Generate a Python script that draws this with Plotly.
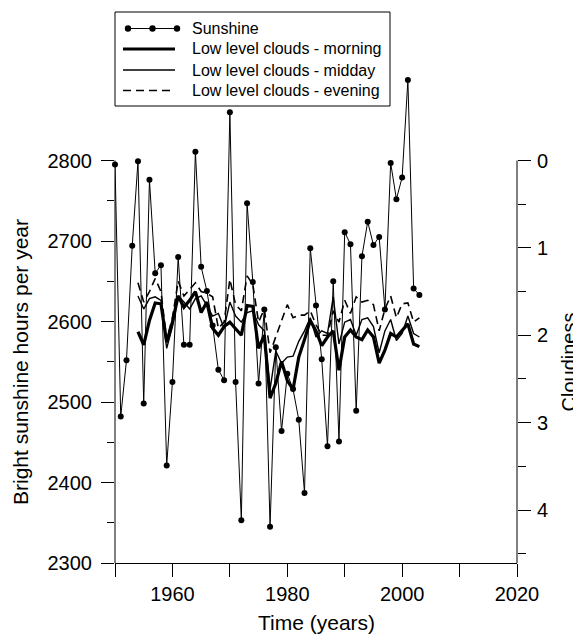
import plotly.graph_objects as go

# ---------------- data ----------------
years_sun = [1950, 1951, 1952, 1953, 1954, 1955, 1956, 1957, 1958, 1959,
             1960, 1961, 1962, 1963, 1964, 1965, 1966, 1967, 1968, 1969,
             1970, 1971, 1972, 1973, 1974, 1975, 1976, 1977, 1978, 1979,
             1980, 1981, 1982, 1983, 1984, 1985, 1986, 1987, 1988, 1989,
             1990, 1991, 1992, 1993, 1994, 1995, 1996, 1997, 1998, 1999,
             2000, 2001, 2002, 2003]
sunshine = [2795, 2482, 2552, 2694, 2799, 2498, 2776, 2660, 2670, 2421,
            2525, 2680, 2571, 2571, 2811, 2668, 2638, 2595, 2540, 2527,
            2860, 2525, 2353, 2747, 2649, 2523, 2615, 2345, 2568, 2464,
            2535, 2516, 2478, 2387, 2691, 2620, 2553, 2445, 2650, 2451,
            2711, 2696, 2489, 2681, 2724, 2695, 2705, 2615, 2797, 2752,
            2779, 2900, 2641, 2633]

years_cloud = [1954, 1955, 1956, 1957, 1958, 1959,
               1960, 1961, 1962, 1963, 1964, 1965, 1966, 1967, 1968, 1969,
               1970, 1971, 1972, 1973, 1974, 1975, 1976, 1977, 1978, 1979,
               1980, 1981, 1982, 1983, 1984, 1985, 1986, 1987, 1988, 1989,
               1990, 1991, 1992, 1993, 1994, 1995, 1996, 1997, 1998, 1999,
               2000, 2001, 2002, 2003]
cloud_morning = [1.96, 2.11, 1.83, 1.63, 1.64, 2.08,
                 1.85, 1.55, 1.68, 1.60, 1.50, 1.74, 1.62, 1.92, 2.00, 1.90,
                 1.85, 1.92, 2.00, 1.66, 1.67, 2.15, 2.00, 2.72, 2.55, 2.30,
                 2.52, 2.62, 2.25, 2.05, 1.83, 1.95, 2.12, 2.02, 1.95, 2.40,
                 2.02, 1.94, 2.02, 2.05, 1.94, 2.02, 2.32, 2.17, 1.98, 2.02,
                 1.94, 1.87, 2.10, 2.13]
cloud_midday = [1.55, 1.70, 1.58, 1.56, 1.60, 2.15,
                1.90, 1.55, 1.62, 1.70, 1.58, 1.55, 1.66, 1.78, 1.75, 1.92,
                1.62, 1.78, 1.85, 1.74, 1.72, 1.88, 1.95, 2.62, 2.18, 2.32,
                2.25, 2.24, 2.07, 1.95, 1.80, 2.02, 1.95, 1.98, 1.56, 2.10,
                1.85, 1.82, 2.00, 1.82, 1.80, 1.90, 2.20, 1.95, 1.82, 2.06,
                1.98, 1.78, 1.98, 2.02]
cloud_evening = [1.40, 1.62, 1.50, 1.35, 1.50, 2.05,
                 1.80, 1.38, 1.55, 1.48, 1.40, 1.50, 1.52, 1.56, 1.92, 1.85,
                 1.36, 1.65, 1.72, 1.32, 1.42, 1.85, 1.70, 2.20, 2.02, 1.85,
                 1.65, 1.80, 1.77, 1.77, 1.72, 1.88, 2.00, 2.00, 1.72, 1.85,
                 1.60, 1.75, 1.56, 1.62, 1.60, 1.65, 1.95, 1.70, 1.55, 1.80,
                 1.64, 1.63, 1.85, 1.80]

x_ticks = [1960, 1980, 2000, 2020]
x_minor = [1950, 1970, 1990, 2010]
y_ticks = [2300, 2400, 2500, 2600, 2700, 2800]
y_minor = [2350, 2450, 2550, 2650, 2750]
y2_ticks = [0, 1, 2, 3, 4]
y2_minor = [0.5, 1.5, 2.5, 3.5, 4.5]

legend_labels = ["Sunshine", "Low level clouds - morning",
                 "Low level clouds - midday", "Low level clouds - evening"]

# ---------------- figure ----------------
FONT = "Liberation Sans, Arial, Helvetica, sans-serif"
OFF = 8                      # page body margin offset
W, H = 581 - OFF, 635 - OFF
ML, MR, MT, MB = 115 - OFF, 64, 10 - OFF, 72
PW, PH = W - ML - MR, H - MT - MB
BOT = 563                    # page y of the x axis
Y2_BOTTOM = (BOT - 160.5) / 87.375
Y2_TOP = -(160.5 - (MT + OFF)) / 87.375

fig = go.Figure()
fig.add_trace(go.Scatter(x=years_cloud, y=cloud_evening, yaxis="y2", mode="lines",
                         line=dict(color="black", width=1.6, dash="8px,5px"),
                         name=legend_labels[3]))
fig.add_trace(go.Scatter(x=years_cloud, y=cloud_midday, yaxis="y2", mode="lines",
                         line=dict(color="black", width=1.4), name=legend_labels[2]))
fig.add_trace(go.Scatter(x=years_cloud, y=cloud_morning, yaxis="y2", mode="lines",
                         line=dict(color="black", width=3.2), name=legend_labels[1]))
fig.add_trace(go.Scatter(x=years_sun, y=sunshine, yaxis="y", mode="lines+markers",
                         line=dict(color="black", width=1),
                         marker=dict(color="black", size=6), cliponaxis=False,
                         name=legend_labels[0]))

tickfont = dict(family=FONT, size=20, color="black")

fig.update_layout(
    width=W, height=H,
    margin=dict(l=ML, r=MR, t=MT, b=MB),
    paper_bgcolor="white", plot_bgcolor="white",
    showlegend=False,
    font=dict(family=FONT, color="black"),
    xaxis=dict(range=[1950, 2020], tickmode="array", tickvals=x_ticks,
               ticks="outside", ticklen=13, tickwidth=1, tickcolor="black",
               minor=dict(tickmode="array", tickvals=x_minor, ticks="outside",
                          ticklen=13, tickwidth=1, tickcolor="black"),
               showline=True, linecolor="black", linewidth=1,
               showgrid=False, zeroline=False, tickfont=tickfont),
    yaxis=dict(range=[2300, 2300 + PH / 0.805], tickmode="array", tickvals=y_ticks,
               ticks="outside", ticklen=13, tickwidth=1, tickcolor="black",
               minor=dict(tickmode="array", tickvals=y_minor, ticks="outside",
                          ticklen=7, tickwidth=1, tickcolor="black"),
               showline=False, showgrid=False, zeroline=False, tickfont=tickfont,
               ticklabelstandoff=5),
    yaxis2=dict(overlaying="y", side="right",
                range=[Y2_BOTTOM, Y2_TOP],
                tickmode="array", tickvals=y2_ticks,
                ticks="outside", ticklen=13, tickwidth=1, tickcolor="black",
                minor=dict(tickmode="array", tickvals=y2_minor, ticks="outside",
                           ticklen=8, tickwidth=1, tickcolor="black"),
                showline=False, showgrid=False, zeroline=False, tickfont=tickfont,
                ticklabelstandoff=2),
)


# page pixel -> paper coordinate helpers
def px(xp):
    return (xp - OFF - ML) / PW


def py(yp):
    return (H - MB - (yp - OFF)) / PH


shapes = []
# bounded axis lines (R style)
shapes.append(dict(type="line", xref="paper", yref="y", x0=0, x1=0, y0=2300, y1=2800,
                   line=dict(color="black", width=1)))
shapes.append(dict(type="line", xref="paper", yref="y2", x0=1, x1=1, y0=0,
                   y1=Y2_BOTTOM, line=dict(color="black", width=1)))

# manual legend
shapes.append(dict(type="rect", xref="paper", yref="paper",
                   x0=px(115), x1=px(390), y0=py(106), y1=py(12),
                   line=dict(color="black", width=1), fillcolor="white", layer="above"))
rows = [28.5, 49, 70, 90.5]
shapes.append(dict(type="line", xref="paper", yref="paper", x0=px(128), x1=px(177),
                   y0=py(rows[0]), y1=py(rows[0]), line=dict(color="black", width=1)))
for cx in (128, 152.5, 177):
    shapes.append(dict(type="circle", xref="paper", yref="paper",
                       x0=px(cx - 3.2), x1=px(cx + 3.2),
                       y0=py(rows[0] + 3.2), y1=py(rows[0] - 3.2),
                       fillcolor="black", line=dict(color="black", width=0)))
shapes.append(dict(type="line", xref="paper", yref="paper", x0=px(123), x1=px(175),
                   y0=py(rows[1]), y1=py(rows[1]), line=dict(color="black", width=3.2)))
shapes.append(dict(type="line", xref="paper", yref="paper", x0=px(123), x1=px(175),
                   y0=py(rows[2]), y1=py(rows[2]), line=dict(color="black", width=1.4)))
shapes.append(dict(type="line", xref="paper", yref="paper", x0=px(123), x1=px(175),
                   y0=py(rows[3]), y1=py(rows[3]),
                   line=dict(color="black", width=1.6, dash="8px,5px")))
fig.update_layout(shapes=shapes)

annotations = []
for lbl, ry in zip(legend_labels, rows):
    annotations.append(dict(text=lbl, xref="paper", yref="paper", x=px(190), y=py(ry),
                            xanchor="left", yanchor="middle", showarrow=False,
                            font=dict(family=FONT, size=16, color="black")))
annotations.append(dict(text="Bright sunshine hours per year", textangle=-90,
                        xref="paper", yref="paper", x=px(20), y=py(362),
                        xanchor="center", yanchor="middle", showarrow=False,
                        font=dict(family=FONT, size=21, color="black")))
annotations.append(dict(text="Cloudiness", textangle=-90,
                        xref="paper", yref="paper", x=px(568.5), y=py(362),
                        xanchor="center", yanchor="middle", showarrow=False,
                        font=dict(family=FONT, size=20, color="black")))
annotations.append(dict(text="Time (years)",
                        xref="paper", yref="paper", x=px(316), y=py(622),
                        xanchor="center", yanchor="middle", showarrow=False,
                        font=dict(family=FONT, size=21, color="black")))
fig.update_layout(annotations=annotations)

fig.write_html("out.html")
